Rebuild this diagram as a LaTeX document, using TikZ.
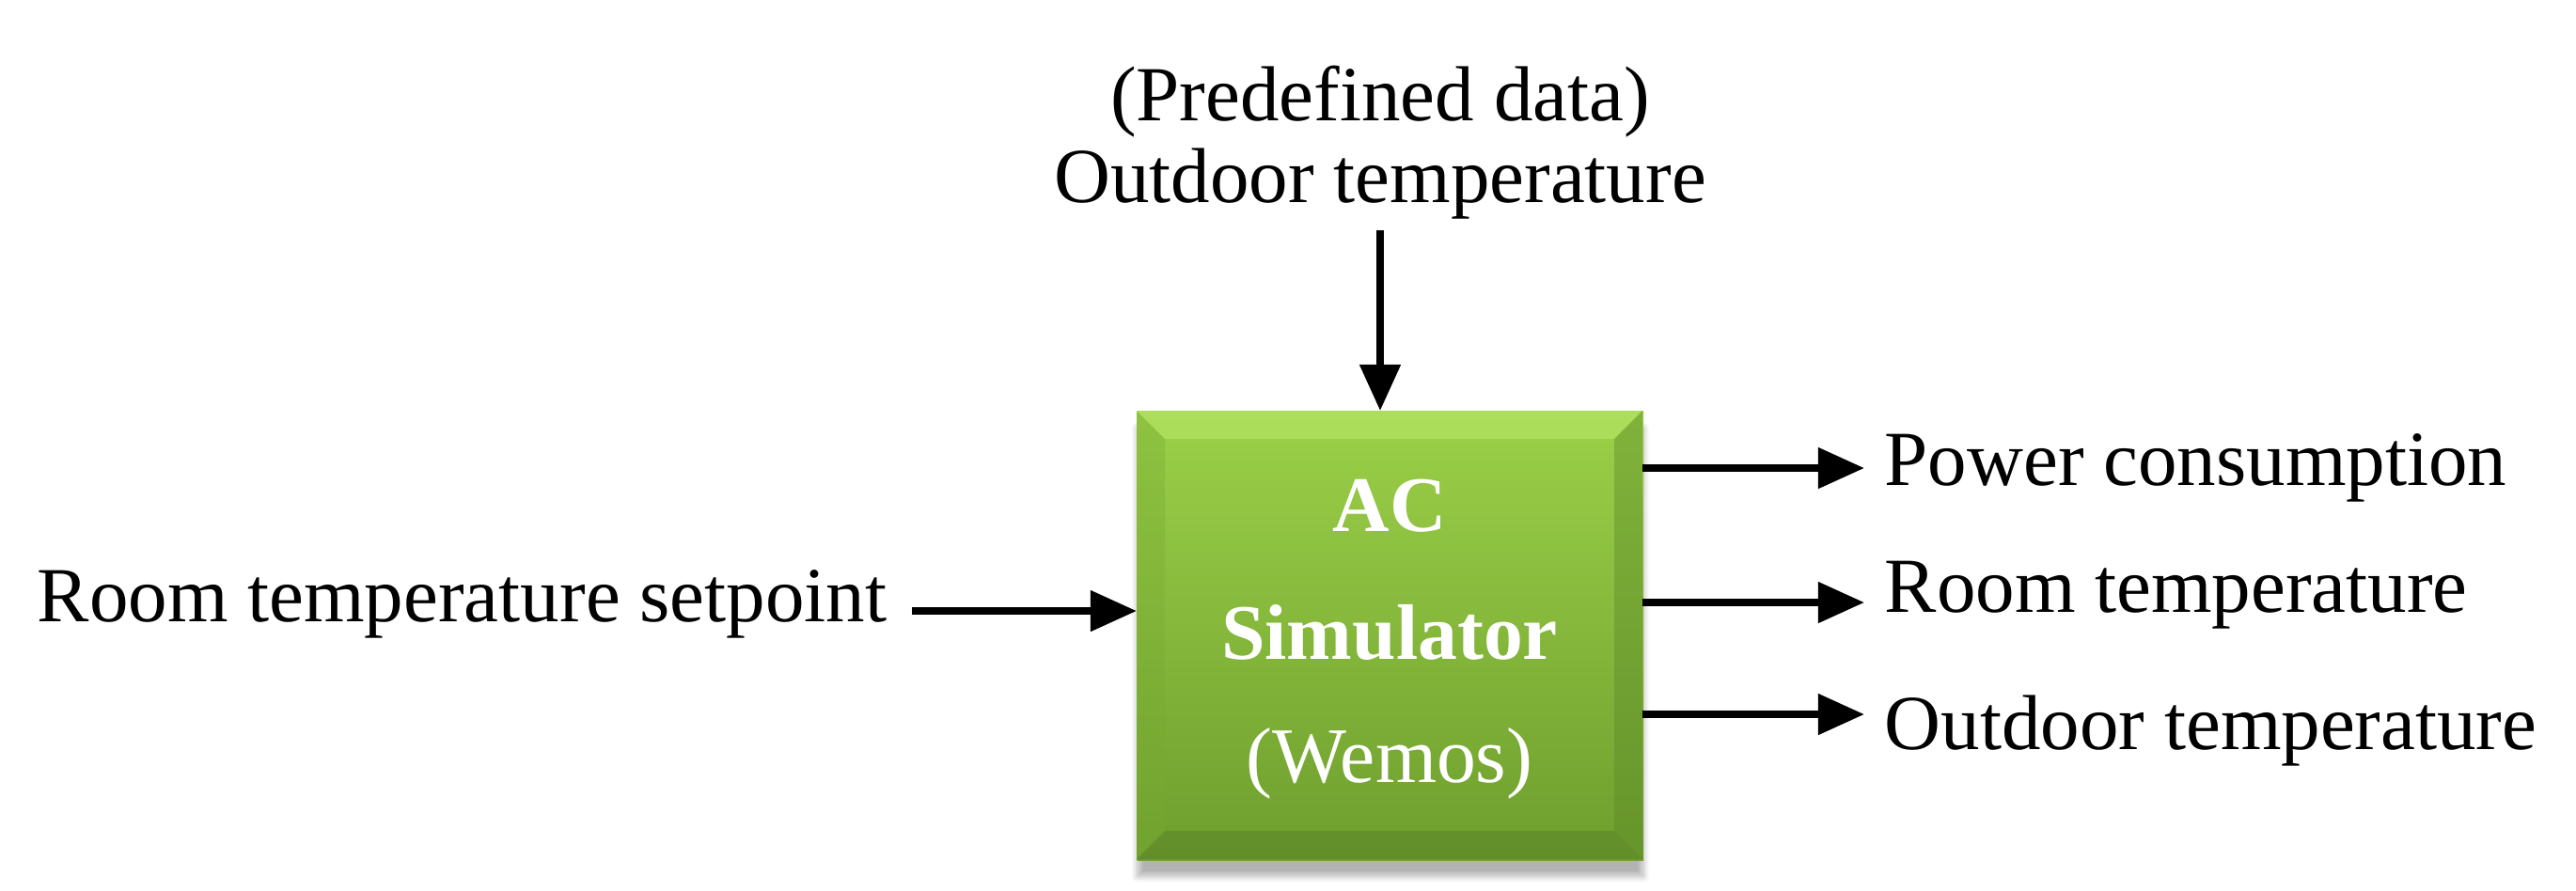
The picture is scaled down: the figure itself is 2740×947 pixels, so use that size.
\documentclass[tikz,border=0pt]{standalone}
\usepackage{fontspec}
\setmainfont{Liberation Serif}
\usetikzlibrary{arrows.meta,shadows.blur}
\definecolor{gtop}{RGB}{155,208,72}
\definecolor{gbot}{RGB}{110,158,46}
\definecolor{bvT}{RGB}{190,235,110}
\definecolor{bvB}{RGB}{80,120,35}
\definecolor{bvL}{RGB}{120,170,50}
\definecolor{bvR}{RGB}{90,135,40}
\begin{document}
\begin{tikzpicture}[x=0.01cm,y=-0.01cm,
  lbl/.style={font=\fontsize{23.6}{26}\selectfont, inner sep=0pt},
  btxt/.style={font=\fontsize{23.8}{26}\selectfont, text=white, inner sep=0pt},
  arr/.style={line width=2.2pt,-{Triangle[length=14pt,width=12pt]}}]
\useasboundingbox (0,0) rectangle (2740,947);
% box
\node[draw=none, minimum width=5.38cm, minimum height=4.77cm, anchor=north west,
  top color=gtop, bottom color=gbot,
  blur shadow={shadow xshift=0pt,shadow yshift=-5pt,shadow blur steps=10,shadow opacity=30}] (box) at (1209,437) {};
\fill[bvT,opacity=0.5] (1209,437) -- (1747,437) -- (1717,467) -- (1239,467) -- cycle;
\fill[bvB,opacity=0.4] (1209,914) -- (1747,914) -- (1717,884) -- (1239,884) -- cycle;
\fill[bvL,opacity=0.35] (1209,437) -- (1239,467) -- (1239,884) -- (1209,914) -- cycle;
\fill[bvR,opacity=0.4] (1747,437) -- (1717,467) -- (1717,884) -- (1747,914) -- cycle;
\node[btxt,font=\fontsize{23.8}{26}\selectfont\bfseries] (ac) at (1478,538) {AC};
\node[btxt,font=\fontsize{23.8}{26}\selectfont\bfseries] (sim) at (1478,673) {Simulator};
\node[btxt] (wem) at (1478,812) {(Wemos)};
% top
\node[lbl] (pre) at (1468,108) {(Predefined data)};
\node[lbl] (out) at (1468,196) {Outdoor temperature};
\coordinate (tin) at (1468,245);
\coordinate (tout) at (1468,437);
\draw[arr] (tin) -- (tout);
% left
\node[lbl,anchor=east] (sp) at (944,643) {Room temperature setpoint};
\coordinate (lin) at (970,650);
\coordinate (lout) at (1209,650);
\draw[arr] (lin) -- (lout);
% right
\node[lbl,anchor=west] (pc) at (2004,498) {Power consumption};
\node[lbl,anchor=west] (rt) at (2004,633) {Room temperature};
\node[lbl,anchor=west] (ot) at (2004,778) {Outdoor temperature};
\coordinate (r1a) at (1747,498); \coordinate (r1b) at (1983,498);
\coordinate (r2a) at (1747,641); \coordinate (r2b) at (1983,641);
\coordinate (r3a) at (1747,760); \coordinate (r3b) at (1983,760);
\draw[arr] (r1a) -- (r1b);
\draw[arr] (r2a) -- (r2b);
\draw[arr] (r3a) -- (r3b);
\end{tikzpicture}
\end{document}
